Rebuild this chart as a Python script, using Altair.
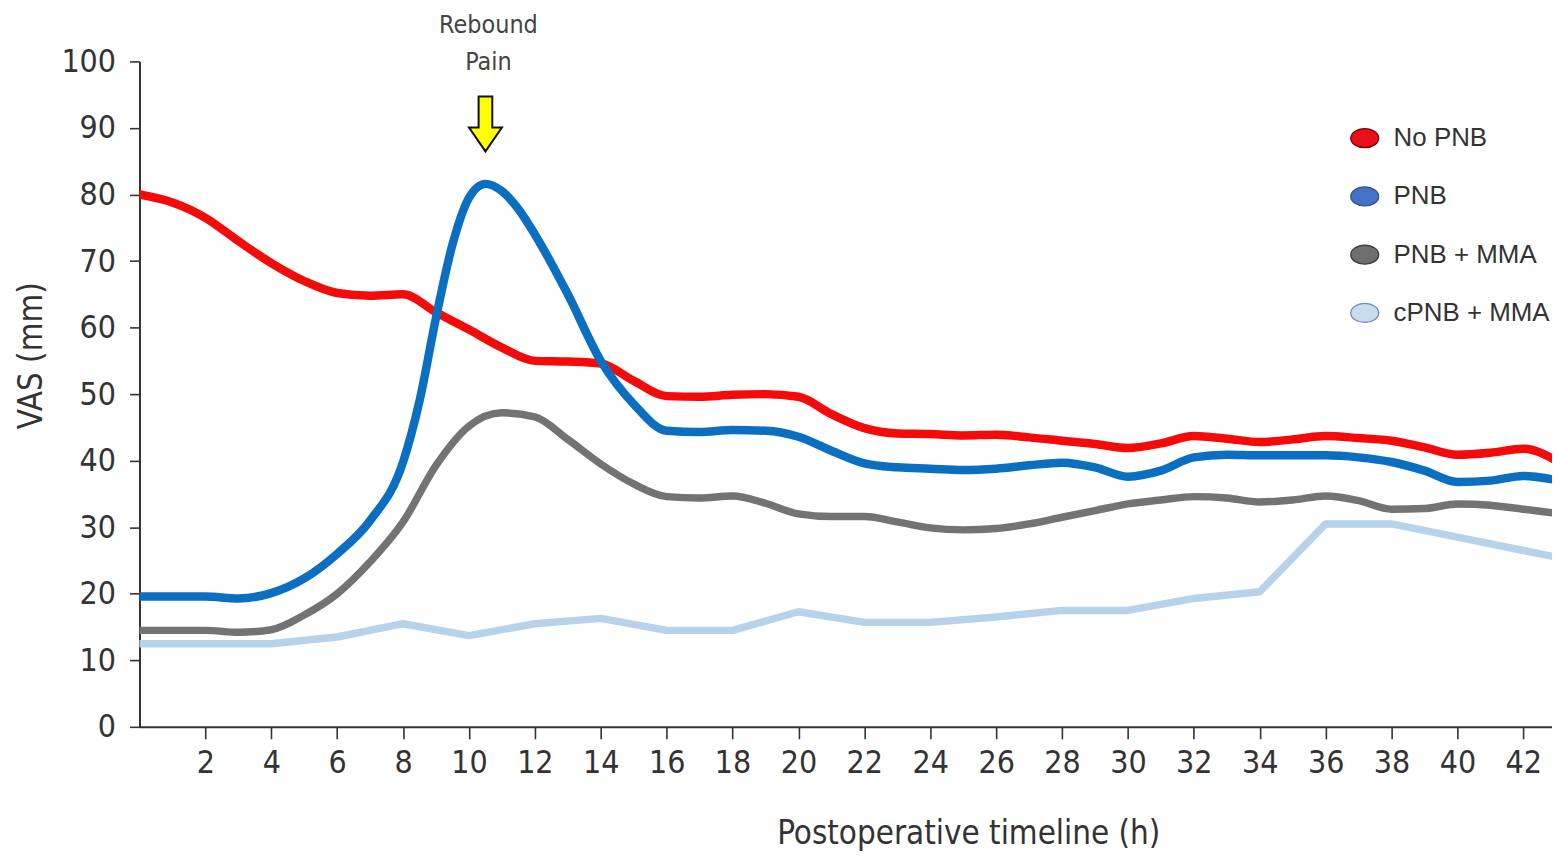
import altair as alt
import pandas as pd

# ---------------- data ----------------
series_names = ["No PNB", "PNB", "PNB + MMA", "cPNB + MMA"]
line_colors = ["#f50a0a", "#0b6fc1", "#747374", "#b8d2ea"]
legend_fills = ["#e8101a", "#4472c4", "#6e6e6e", "#c7dbf1"]
legend_strokes = ["#7a0000", "#2f528f", "#3a3a3a", "#6f8fb3"]

hours_hourly = list(range(0, 44))

no_pnb_vas = [80, 78.8, 76.5, 73, 69.7, 67, 65.2, 64.8, 65, 62.3, 59.7, 57, 55,
              54.9, 54.6, 52, 49.7, 49.6, 49.9, 50, 49.6, 47, 44.9, 44.1, 44,
              43.8, 43.9, 43.5, 43, 42.5, 41.9, 42.6, 43.7, 43.3, 42.8, 43.2,
              43.7, 43.4, 43, 42, 40.9, 41.2, 41.8, 40]

pnb_hours = [0, 1, 2, 3, 4, 5, 6, 7, 8, 8.5, 9, 9.5, 10, 10.5, 11, 11.5, 12, 13,
             14, 15, 16, 17, 18, 19, 20, 21, 22, 23, 24, 25, 26, 27, 28, 29, 30,
             31, 32, 33, 34, 35, 36, 37, 38, 39, 40, 41, 42, 43]
pnb_vas = [19.6, 19.6, 19.6, 19.3, 20.1, 22.3, 26, 31, 39.8, 49, 61.5, 72.5,
           79.5, 81.6, 80.5, 77.8, 74, 65, 55, 48.5, 44.5, 44.3, 44.6, 44.5,
           43.6, 41.5, 39.6, 39, 38.8, 38.6, 38.8, 39.3, 39.7, 39, 37.6, 38.5,
           40.5, 40.9, 40.8, 40.8, 40.8, 40.5, 39.8, 38.5, 36.8, 37, 37.7, 37.1]

pnb_mma_vas = [14.5, 14.5, 14.5, 14.2, 14.6, 16.8, 20, 24.8, 30.8, 39.3, 45.2,
               47.2, 46.6, 43.2, 39.5, 36.5, 34.6, 34.4, 34.7, 33.6, 32, 31.6,
               31.6, 30.8, 29.9, 29.6, 29.8, 30.5, 31.5, 32.5, 33.5, 34.1, 34.6,
               34.4, 33.8, 34.1, 34.7, 34, 32.7, 32.8, 33.5, 33.3, 32.7, 32.1]

cpnb_hours = [0, 2, 4, 6, 8, 10, 12, 14, 16, 18, 20, 22, 24, 26, 28, 30, 32, 34,
              36, 38, 40, 42, 43]
cpnb_vas = [12.5, 12.5, 12.5, 13.5, 15.5, 13.7, 15.5, 16.3, 14.5, 14.5, 17.3,
            15.7, 15.7, 16.5, 17.5, 17.5, 19.3, 20.3, 30.5, 30.5, 28.5, 26.5,
            25.5]

x_ticks = list(range(2, 43, 2))
y_ticks = list(range(0, 101, 10))

annot_hour = [10.5]
arrow_vas = [90.6]
label_vas = [104.2]
label_text = [["Rebound", "Pain"]]

# ---------------- tables ----------------
rows = []
for h, v in zip(hours_hourly, no_pnb_vas):
    rows.append({"series": "No PNB", "hour": h, "vas": v})
for h, v in zip(pnb_hours, pnb_vas):
    rows.append({"series": "PNB", "hour": h, "vas": v})
for h, v in zip(hours_hourly, pnb_mma_vas):
    rows.append({"series": "PNB + MMA", "hour": h, "vas": v})
for h, v in zip(cpnb_hours, cpnb_vas):
    rows.append({"series": "cPNB + MMA", "hour": h, "vas": v})
df = pd.DataFrame(rows)

arrow_df = pd.DataFrame({"hour": annot_hour, "vas": arrow_vas})
label_df = pd.DataFrame({"hour": annot_hour, "vas": label_vas, "text": label_text})

FONT = "'DejaVu Sans Condensed', 'Liberation Sans', sans-serif"
LEG_FONT = "'Liberation Sans', Arial, sans-serif"

x_scale = alt.Scale(domain=[0, 42.87], nice=False, zero=False)
y_scale = alt.Scale(domain=[0, 100], nice=False)

x_enc = alt.X(
    "hour:Q", scale=x_scale,
    axis=alt.Axis(values=x_ticks, title="Postoperative timeline (h)",
                  grid=False, tickSize=12, labelPadding=9,
                  titleX=832, titleY=117, titleAlign="center",
                  titleBaseline="alphabetic", titleAnchor="start"),
)
y_enc = alt.Y(
    "vas:Q", scale=y_scale,
    axis=alt.Axis(values=y_ticks, title="VAS (mm)", grid=False, tickSize=10,
                  labelPadding=14, titleX=-98, titleY=295,
                  titleAlign="center", titleBaseline="alphabetic",
                  titleAnchor="start"),
)
color_enc = alt.Color("series:N",
                      scale=alt.Scale(domain=series_names, range=line_colors),
                      legend=None)

base = alt.Chart(df)


def series_line(name, width, interp):
    return base.transform_filter(alt.datum.series == name).mark_line(
        strokeWidth=width, interpolate=interp, clip=True,
        strokeCap="round", strokeJoin="round",
    ).encode(x=x_enc, y=y_enc, color=color_enc, detail="series:N")


ellipse = "M -1 0 A 1 0.68 0 1 1 1 0 A 1 0.68 0 1 1 -1 0 Z"
leg = alt.Legend(title=None, orient="none", legendX=1215, legendY=62,
                 symbolType=ellipse, symbolSize=784, symbolOpacity=1,
                 symbolStrokeWidth=1.3, labelFont=LEG_FONT, labelFontSize=26,
                 labelColor="#333333", labelOffset=14, rowPadding=30.5,
                 labelLimit=300)

legend_layer = base.mark_point(filled=True, opacity=0, size=10).encode(
    x=alt.X("hour:Q", scale=x_scale),
    y=alt.Y("vas:Q", scale=y_scale),
    fill=alt.Fill("series:N",
                  scale=alt.Scale(domain=series_names, range=legend_fills),
                  legend=leg),
    stroke=alt.Stroke("series:N",
                      scale=alt.Scale(domain=series_names, range=legend_strokes),
                      legend=leg),
)

arrow_path = ("M -0.25 -1 L 0.25 -1 L 0.25 0.13 L 0.6 0.13 L 0 1 "
              "L -0.6 0.13 L -0.25 0.13 Z")
arrow = alt.Chart(arrow_df).mark_point(
    shape=arrow_path, size=3025, filled=True, fill="#ffff00",
    stroke="#111111", strokeWidth=2, opacity=1, clip=False,
).encode(x=alt.X("hour:Q", scale=x_scale), y=alt.Y("vas:Q", scale=y_scale))

label = alt.Chart(label_df).mark_text(
    font=FONT, fontSize=25, color="#444444", align="center", dx=3,
    baseline="alphabetic", lineHeight=37, clip=False,
).encode(x=alt.X("hour:Q", scale=x_scale), y=alt.Y("vas:Q", scale=y_scale),
         text="text")

chart = alt.layer(
    series_line("cPNB + MMA", 7.5, "linear"),
    series_line("PNB + MMA", 7.5, "monotone"),
    series_line("No PNB", 8.5, "monotone"),
    series_line("PNB", 8.5, "monotone"),
    legend_layer,
    arrow,
    label,
).resolve_scale(color="independent").properties(
    width=1418, height=668,
    autosize=alt.AutoSizeParams(type="none"),
    padding={"left": 132, "top": 52, "right": 0, "bottom": 124},
).configure_view(stroke=None).configure_axis(
    domainColor="#333333", domainWidth=2, tickColor="#333333", tickWidth=1.6,
    labelFont=FONT, labelFontSize=32, labelColor="#333333",
    titleFont=FONT, titleFontSize=33, titleColor="#333333",
    titleFontWeight="normal",
).configure_legend(padding=0)

chart.save("out.html", embed_options={"renderer": "svg", "actions": False})
